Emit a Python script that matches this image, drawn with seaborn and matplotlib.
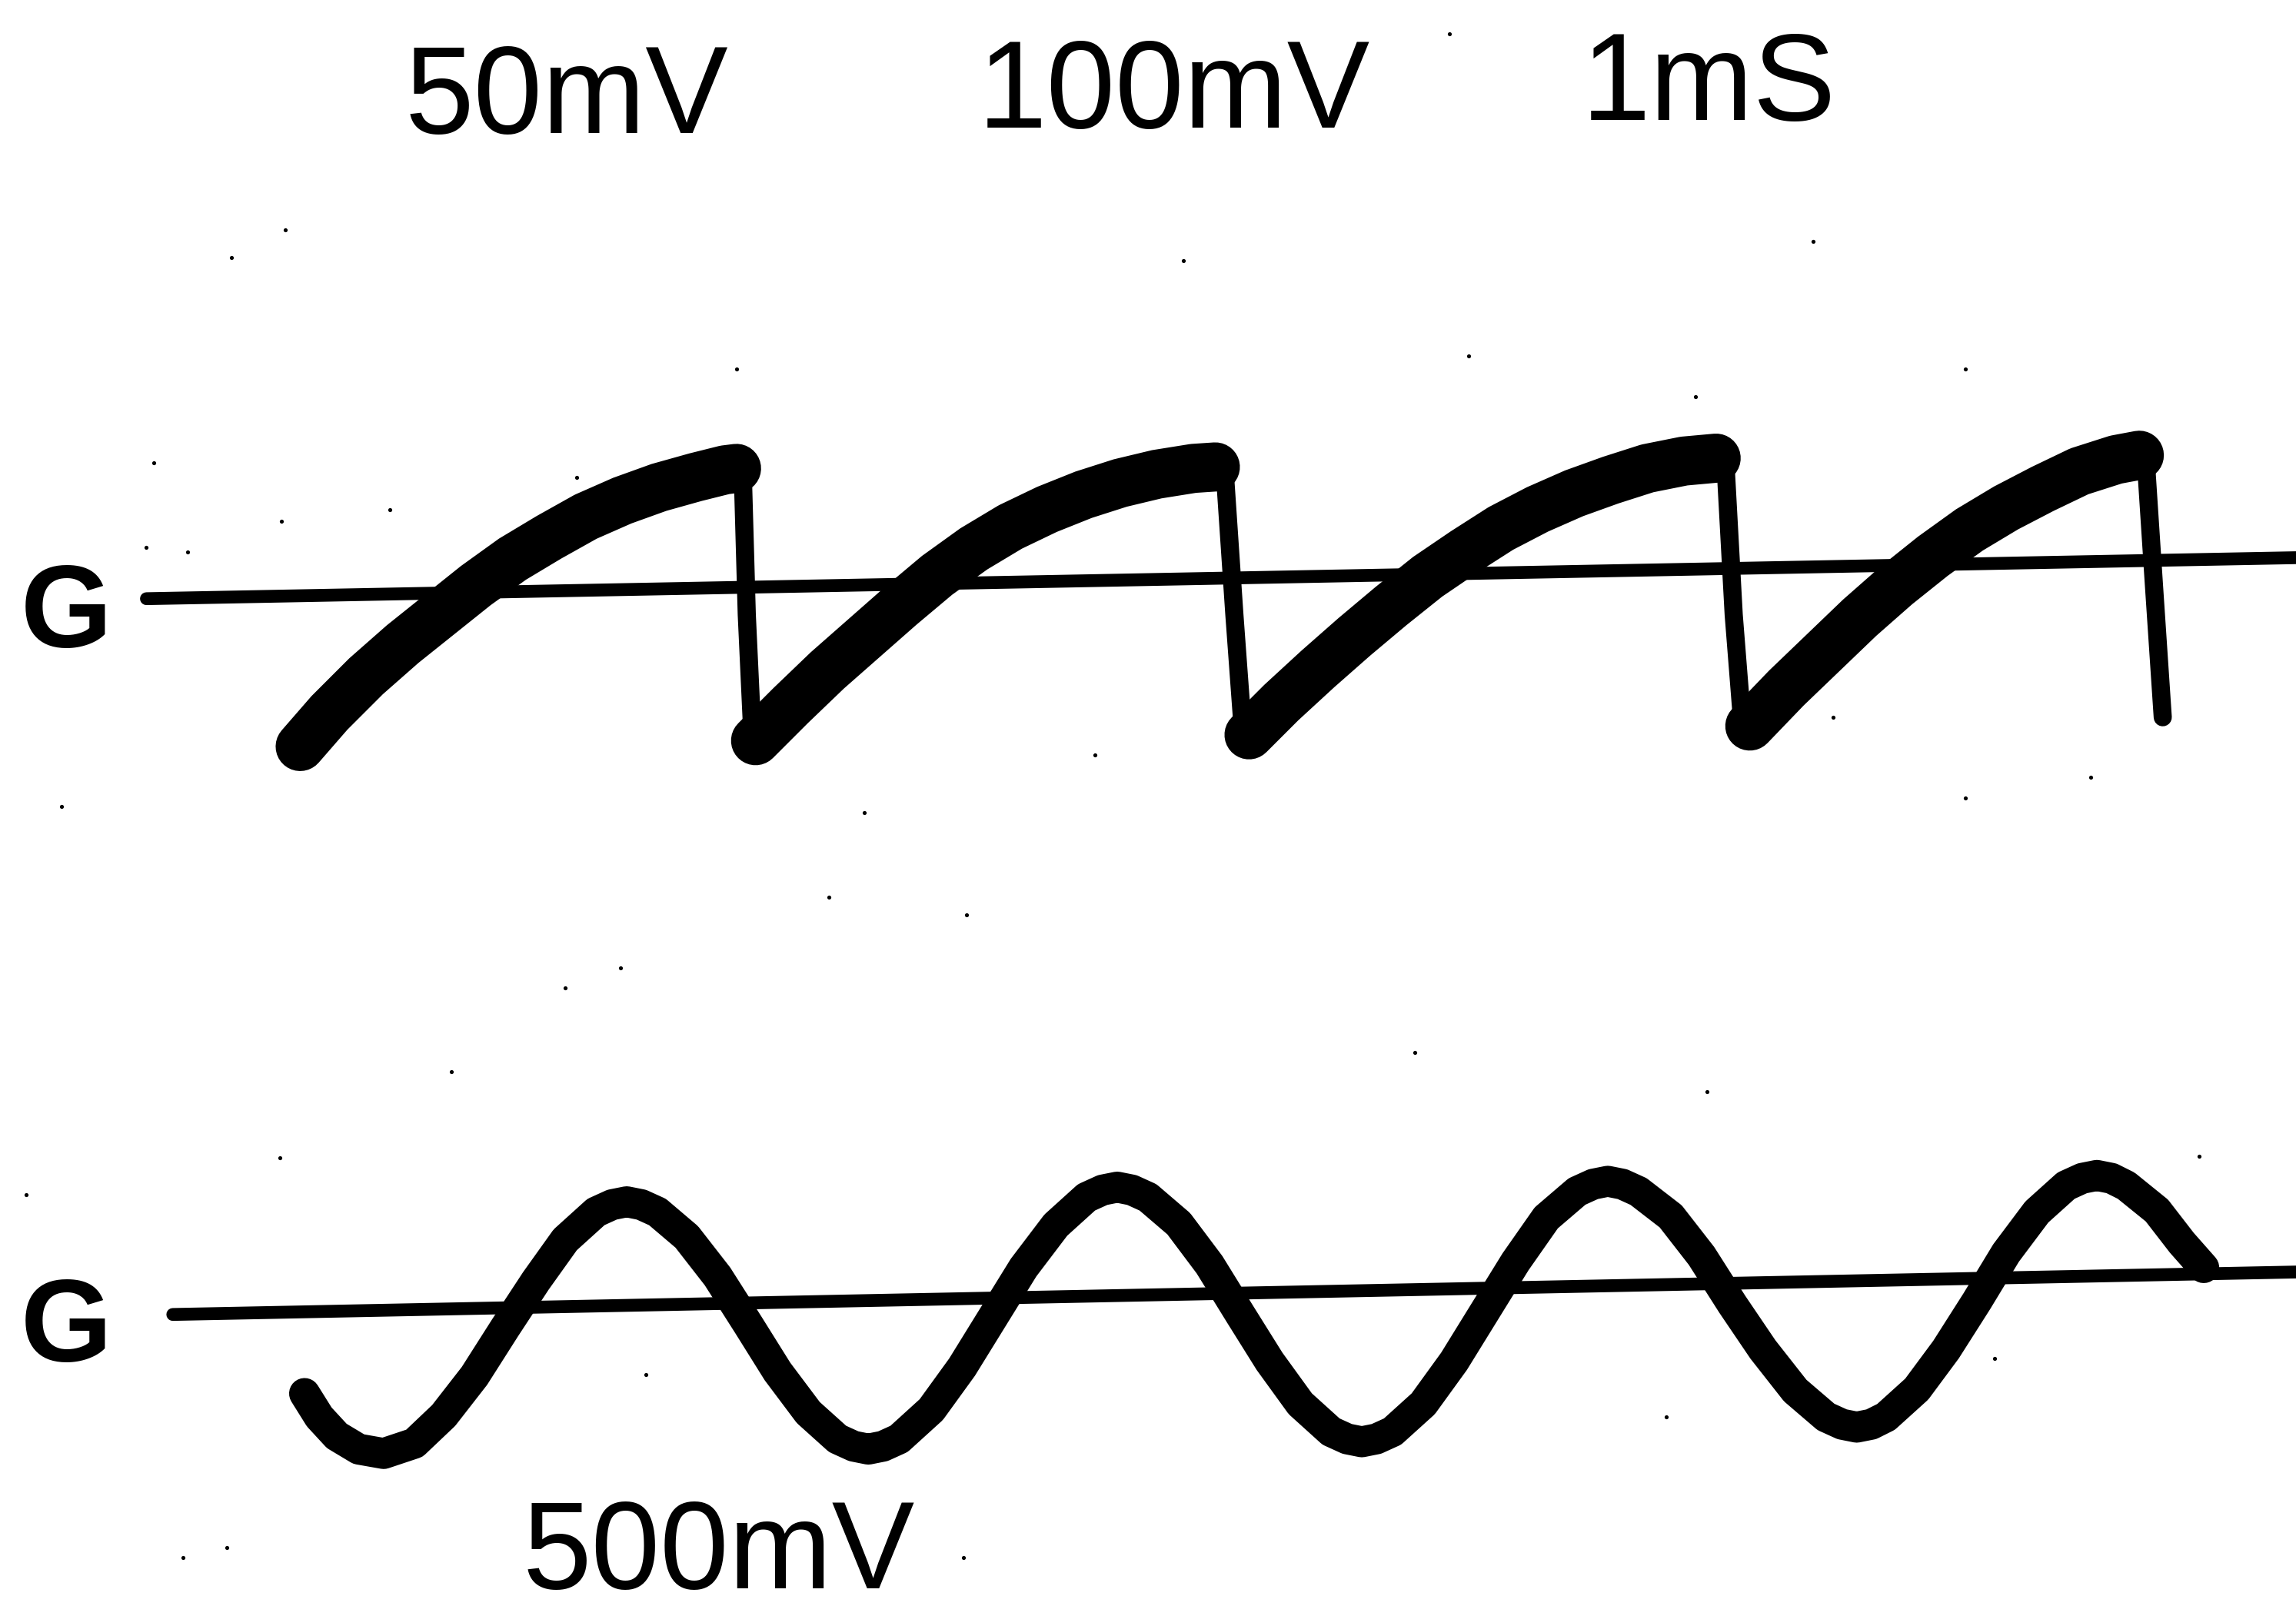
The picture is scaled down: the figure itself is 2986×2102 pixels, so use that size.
import matplotlib
matplotlib.use("Agg")
import matplotlib.pyplot as plt
import pandas as pd
import seaborn as sns

sns.set_theme(style="white")
plt.rcParams["font.family"] = ["Liberation Sans", "DejaVu Sans"]

# Screen coordinates of the scope graticule (x to the right, y downward)
SCREEN_W, SCREEN_H = 1568, 1104

# Channel labels along the top edge (centre x, baseline y)
channel_labels = ["50mV", "100mV", "1mS"]
channel_label_x = [387, 802, 1167]
channel_label_y = [91, 87, 82]
bottom_label = "500mV"
ground_label = "G"

# Ground reference traces (endpoints)
ground_top_x = [100, 1568]
ground_top_y = [409, 381]
ground_bottom_x = [118, 1568]
ground_bottom_y = [898, 869]

# Sawtooth: rising ramps (one list per cycle)
ramp_x = [
    [205, 225, 250, 275, 300, 325, 350, 375, 400, 425, 450, 475, 495, 503],
    [516, 540, 565, 590, 615, 640, 665, 690, 715, 740, 765, 790, 815, 830],
    [853, 875, 900, 925, 950, 975, 1000, 1025, 1050, 1075, 1100, 1125, 1150, 1172],
    [1195, 1220, 1245, 1270, 1295, 1320, 1345, 1370, 1395, 1420, 1445, 1461],
]
ramp_y = [
    [510, 487, 462, 440, 420, 400, 382, 367, 353, 342, 333, 326, 321, 320],
    [506, 482, 458, 436, 414, 393, 375, 360, 348, 338, 330, 324, 320, 319],
    [502, 480, 457, 435, 414, 394, 377, 361, 348, 337, 328, 320, 315, 313],
    [496, 470, 446, 422, 400, 380, 362, 347, 334, 322, 314, 311],
]
# Sawtooth: fast flyback edges
flyback_x = [[507, 510, 514], [836, 843, 849], [1178, 1184, 1190], [1465, 1471, 1477]]
flyback_y = [[314, 420, 506], [316, 420, 502], [310, 420, 496], [308, 400, 490]]

# Sine trace
sine_x = [208, 218, 230, 245, 262,
          283, 303, 324, 345, 366, 386, 407, 418, 428,
          438, 449, 469, 490, 511, 531, 552, 572, 583, 593,
          603, 614, 636, 657, 678, 699, 721, 742, 753, 763,
          773, 784, 805, 826, 847, 867, 888, 909, 920, 930,
          940, 951, 972, 993, 1014, 1035, 1056, 1077, 1088, 1098,
          1108, 1119, 1141, 1162, 1183, 1204, 1226, 1247, 1258, 1268,
          1278, 1288, 1309, 1329, 1350, 1370, 1391, 1411, 1422, 1432,
          1442, 1452, 1473, 1490, 1505]
sine_y = [952, 968, 981, 990, 993,
          986, 967, 940, 907, 875, 847, 828, 823, 821,
          823, 828, 845, 872, 905, 937, 965, 983, 988, 990,
          988, 983, 963, 934, 900, 866, 837, 818, 813, 811,
          813, 818, 836, 864, 898, 930, 959, 978, 983, 985,
          983, 978, 959, 930, 896, 862, 832, 814, 809, 807,
          809, 814, 831, 858, 891, 922, 950, 968, 973, 975,
          973, 968, 949, 922, 889, 856, 828, 810, 805, 803,
          805, 810, 827, 849, 866]

# Small phosphor specks on the screen
speck_x = [195, 158, 808, 990, 1238, 503, 1003, 1342, 1158, 105, 394, 266, 192,
           100, 128, 1252, 748, 1428, 1342, 42, 590,
           566, 660, 424, 386, 966, 1166, 308, 191, 18, 1502, 441, 1138, 1362,
           155, 125, 658]
speck_y = [157, 176, 178, 23, 165, 252, 243, 252, 271, 316, 326, 348, 356,
           374, 377, 490, 516, 531, 545, 551, 555,
           613, 625, 661, 675, 719, 746, 732, 791, 816, 790, 939, 968, 928,
           1057, 1064, 1064]

# Stroke widths of the traces, in points
W_GROUND, W_RAMP, W_FLYBACK, W_SINE = 12, 46, 17, 29


def segments(xs_list, ys_list):
    rows = []
    for i, (xs, ys) in enumerate(zip(xs_list, ys_list)):
        for order, (x, y) in enumerate(zip(xs, ys)):
            rows.append({"seg": i, "order": order, "x": x, "y": y})
    return pd.DataFrame(rows)


def trace(df, width, units=True):
    """Draw one trace group with seaborn and pin its stroke width."""
    before = len(ax.lines)
    kw = dict(units="seg") if units else {}
    sns.lineplot(data=df, x="x", y="y", estimator=None, sort=False, color=ink,
                 ax=ax, **kw)
    for line in ax.lines[before:]:
        line.set_linewidth(width)
        line.set_solid_capstyle("round")
        line.set_solid_joinstyle("round")


fig = plt.figure(figsize=(29.86, 21.02), dpi=100)
ax = fig.add_axes([0, 0, 1, 1])
ax.set_xlim(0, SCREEN_W)
ax.set_ylim(SCREEN_H, 0)
ax.axis("off")

ink = "black"

trace(segments([ground_top_x, ground_bottom_x], [ground_top_y, ground_bottom_y]), W_GROUND)
trace(segments(ramp_x, ramp_y), W_RAMP)
trace(segments(flyback_x, flyback_y), W_FLYBACK)
trace(pd.DataFrame({"x": sine_x, "y": sine_y}), W_SINE, units=False)

# Specks
specks = pd.DataFrame({"x": speck_x, "y": speck_y})
sns.scatterplot(data=specks, x="x", y="y", color=ink, s=14, linewidth=0, ax=ax)

# Text
for label, x, y in zip(channel_labels, channel_label_x, channel_label_y):
    ax.text(x, y, label, ha="center", va="baseline", fontsize=116, color=ink)
ax.text(491, 1085, bottom_label, ha="center", va="baseline", fontsize=116, color=ink)
ax.text(45, 442, ground_label, ha="center", va="baseline", fontsize=110,
        fontweight="bold", color=ink)
ax.text(45, 930, ground_label, ha="center", va="baseline", fontsize=110,
        fontweight="bold", color=ink)

ax.set_xlabel("")
ax.set_ylabel("")
fig.savefig("out.png", dpi=100, facecolor="white")
